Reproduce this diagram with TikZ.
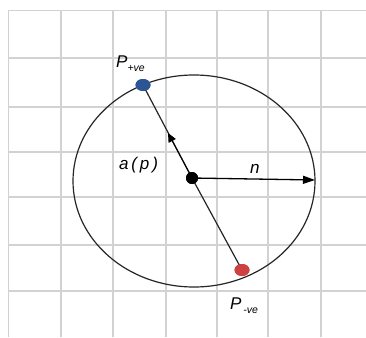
\documentclass[tikz,border=0pt]{standalone}
\usepackage{fontspec}
\setmainfont{Liberation Sans}
\usetikzlibrary{arrows.meta,shapes.geometric}
\definecolor{gridgray}{RGB}{210,210,210}
\definecolor{dotblue}{RGB}{45,85,150}
\definecolor{dotred}{RGB}{205,65,65}
\tikzset{
  gridline/.style={gridgray, line width=1.2pt},
  curve/.style={black!85, line width=1.2pt},
  dotnode/.style={ellipse, inner sep=0pt, minimum width=15pt, minimum height=12pt, draw=none},
  lbl/.style={font=\fontsize{17}{19}\selectfont\itshape, inner sep=0pt},
}
\newcommand{\subsc}[1]{\raisebox{-0.45ex}{\fontsize{10.5}{11}\selectfont #1}}
\begin{document}
\begin{tikzpicture}[x=1pt,y=-1pt]
\useasboundingbox (0,0) rectangle (366,337);
\fill[white] (0,0) rectangle (366,337);
% grid
\foreach \gx in {8.5,61,113,166,217,268,321} \draw[gridline] (\gx,10.5) -- (\gx,337);
\foreach \gy in {10.5,58,107,152,197,245,291} \draw[gridline] (8.5,\gy) -- (366,\gy);
% circle
\draw[curve] (194,181) ellipse [x radius=121, y radius=106];
% points
\node[dotnode, fill=dotblue] (pp) at (143,85) {};
\node[dotnode, fill=dotred] (pm) at (242,270) {};
\node[circle, fill=black, inner sep=0pt, minimum size=12pt] (c) at (192,178) {};
\coordinate (nend) at (315,180);
\coordinate (mid) at (168,133);
% diameter line
\draw[curve] (pp.center) -- (c.center);
\draw[curve] (c.center) -- (pm.center);
\draw[black, line width=1pt, -{Triangle[length=9pt,width=8pt]}] (c.center) -- (mid);
% radius arrow
\draw[black, line width=1.3pt, -{Triangle[length=12pt,width=8pt]}] (c.center) -- (nend);
% redraw dots on top
\node[dotnode, fill=dotblue] at (143,85) {};
\node[dotnode, fill=dotred] at (242,270) {};
\node[circle, fill=black, inner sep=0pt, minimum size=12pt] at (192,178) {};
% labels
\node[lbl, anchor=base west] (lp) at (116,67) {P\subsc{+ve}};
\node[lbl, anchor=base west] (la) at (119,169) {a\,(\,p\,)};
\node[lbl, anchor=base west] (ln) at (250,173) {n};
\node[lbl, anchor=base west] (lm) at (230,309) {P\subsc{\,-ve}};
\end{tikzpicture}
\end{document}
